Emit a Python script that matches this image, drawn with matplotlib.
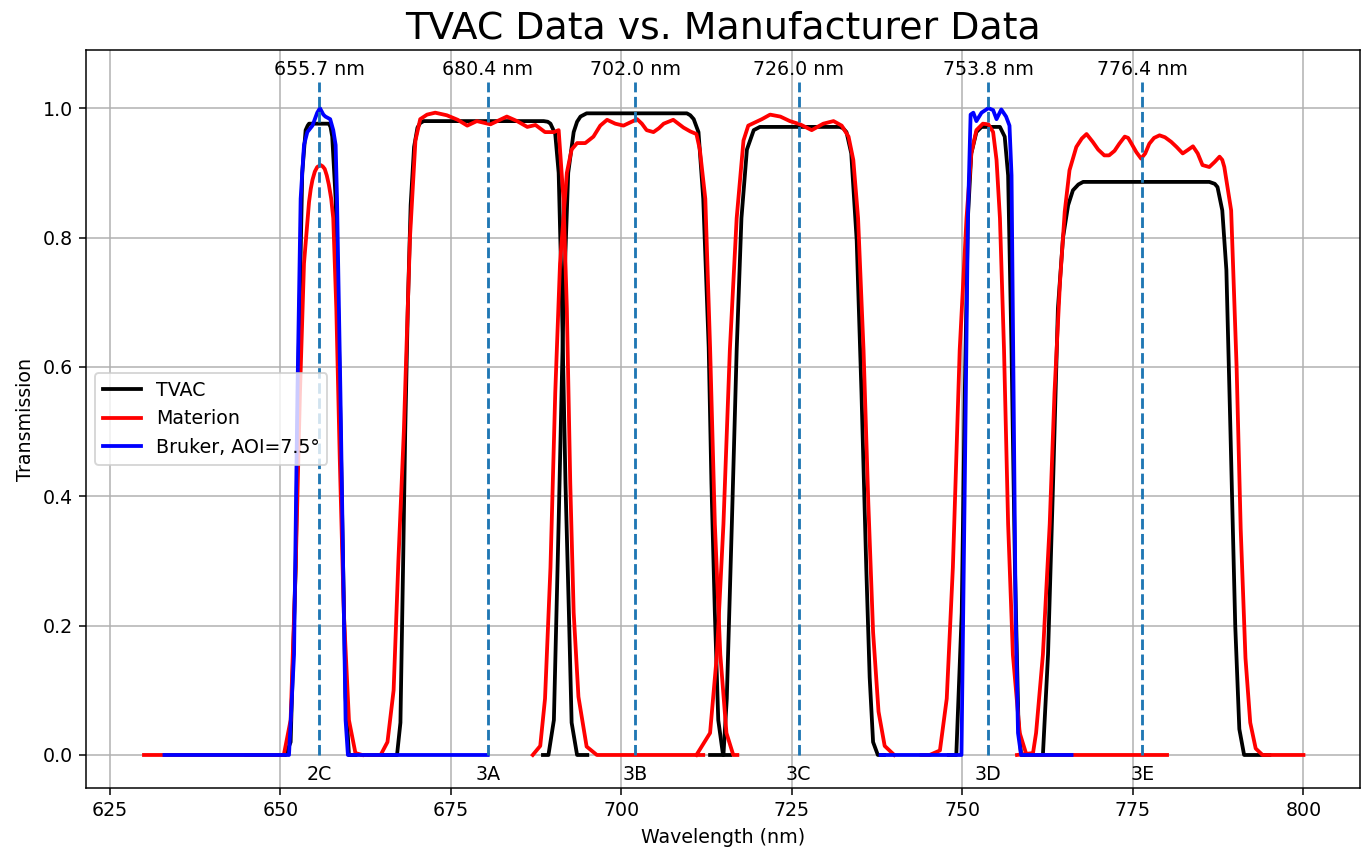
import numpy as np
import matplotlib.pyplot as plt

# filter centres and names
centers = [655.7, 680.4, 702.0, 726.0, 753.8, 776.4]
names = ['2C', '3A', '3B', '3C', '3D', '3E']

# TVAC measured curves, one per filter
tvac_2c_wl = [645, 650.77, 651.5, 652.24, 652.7, 653.2, 653.7, 654.0, 654.2, 657.1, 657.35, 657.6, 658.1, 658.6, 659.07, 659.56, 660.05, 661]
tvac_2c_t = [0, 0, 0.02, 0.29, 0.63, 0.9, 0.966, 0.973, 0.976, 0.976, 0.971, 0.956, 0.86, 0.63, 0.36, 0.09, 0, 0]

tvac_3a_wl = [663, 667.1, 667.6, 668.0, 668.3, 668.7, 669.1, 669.6, 670.1, 670.5, 671.0, 688.6, 689.2, 689.6, 690.3, 690.8, 691.3, 691.8, 692.3, 692.7, 693.5, 695]
tvac_3a_t = [0, 0, 0.05, 0.3, 0.5, 0.7, 0.85, 0.94, 0.97, 0.977, 0.98, 0.98, 0.979, 0.976, 0.96, 0.9, 0.69, 0.42, 0.22, 0.05, 0, 0]

tvac_3b_wl = [688.5, 689.3, 690.1, 690.8, 691.5, 692.2, 693.0, 693.5, 694.0, 694.9, 709.6, 710.1, 710.6, 711.3, 712.0, 712.8, 713.2, 713.7, 714.2, 714.9, 716]
tvac_3b_t = [0, 0, 0.054, 0.36, 0.69, 0.9, 0.963, 0.979, 0.987, 0.992, 0.992, 0.989, 0.983, 0.963, 0.86, 0.63, 0.42, 0.22, 0.054, 0, 0]

tvac_3c_wl = [713, 714.96, 715.45, 716.2, 716.9, 717.6, 718.4, 719.4, 720.3, 732.0, 732.5, 733.0, 733.7, 734.5, 735.2, 735.9, 736.4, 736.9, 737.6, 738.5]
tvac_3c_t = [0, 0, 0.087, 0.36, 0.626, 0.83, 0.936, 0.966, 0.971, 0.971, 0.969, 0.963, 0.93, 0.795, 0.56, 0.29, 0.12, 0.02, 0, 0]

tvac_3d_wl = [748, 749.1, 749.9, 750.35, 750.8, 751.3, 752.05, 752.8, 755.5, 756.2, 756.7, 757.2, 757.7, 758.2, 758.6, 760]
tvac_3d_t = [0, 0, 0.22, 0.56, 0.83, 0.93, 0.963, 0.971, 0.971, 0.956, 0.896, 0.626, 0.29, 0.054, 0, 0]

tvac_3e_wl = [760, 761.8, 762.55, 763.3, 764.0, 764.75, 765.5, 766.2, 767.0, 767.7, 786.2, 787.0, 787.4, 788.1, 788.7, 789.3, 790.0, 790.6, 791.3, 795]
tvac_3e_t = [0, 0, 0.155, 0.424, 0.69, 0.8, 0.85, 0.873, 0.882, 0.886, 0.886, 0.883, 0.878, 0.842, 0.75, 0.5, 0.2, 0.04, 0, 0]

# Materion manufacturer curves
mat_2c_wl = [630, 650.5, 651.5, 652.24, 652.87, 653.46, 654.2, 654.45, 654.7, 655.05, 655.4, 655.9, 656.2, 656.5, 656.8, 657.1, 657.45,
             657.75, 658.2, 658.7, 659.3, 660.05, 661.0, 662]
mat_2c_t = [0, 0, 0.054, 0.29, 0.56, 0.76, 0.855, 0.875, 0.889, 0.902, 0.909, 0.912, 0.91, 0.906, 0.896, 0.882, 0.86,
            0.83, 0.69, 0.46, 0.22, 0.054, 0.003, 0]

mat_3a_wl = [662, 664.7, 665.7, 666.6, 667.3, 668.1, 669.0, 669.8, 670.5, 671.5, 672.7, 674.4, 676.0, 677.4, 678.8, 680.8, 683.2, 684.7,
             686.2, 687.4, 688.8, 690.1, 690.8, 691.5, 692.0, 692.5, 693.0, 693.7, 694.9, 696.4, 712]
mat_3a_t = [0, 0, 0.02, 0.1, 0.3, 0.5, 0.8, 0.95, 0.983, 0.99, 0.993, 0.989, 0.982, 0.973, 0.98, 0.975, 0.987, 0.98,
            0.971, 0.974, 0.963, 0.963, 0.966, 0.86, 0.69, 0.42, 0.22, 0.09, 0.013, 0, 0]

mat_3b_wl = [687, 688.1, 688.8, 689.6, 690.3, 691.0, 692.0, 692.7, 693.5, 694.7, 695.9, 696.9, 697.9, 699.1, 700.3, 701.3, 702.3, 703.0, 703.7, 704.7,
             705.5, 706.2, 707.6, 709.1, 710.1, 711.0, 711.5, 712.3, 713.0, 713.7, 714.5, 715.4, 716.4, 717]
mat_3b_t = [0, 0.014, 0.087, 0.29, 0.56, 0.76, 0.9, 0.936, 0.946, 0.946, 0.956, 0.973, 0.982, 0.976, 0.973, 0.978, 0.983, 0.976, 0.966, 0.963,
            0.969, 0.976, 0.982, 0.97, 0.964, 0.96, 0.936, 0.86, 0.63, 0.357, 0.155, 0.034, 0, 0]

mat_3c_wl = [711, 713.0, 714.0, 714.96, 715.9, 716.9, 717.9, 718.6, 719.6, 720.6, 721.8, 723.3, 724.7, 726.2, 727.9, 729.6, 731.1, 732.3,
             733.3, 734.0, 734.7, 735.5, 736.2, 736.9, 737.7, 738.6, 740]
mat_3c_t = [0, 0.034, 0.155, 0.357, 0.626, 0.83, 0.95, 0.973, 0.978, 0.983, 0.99, 0.987, 0.98, 0.975, 0.966, 0.976, 0.98, 0.973,
            0.956, 0.92, 0.83, 0.626, 0.39, 0.19, 0.067, 0.014, 0]

mat_3d_wl = [744, 745.2, 746.7, 747.7, 748.6, 749.6, 750.6, 751.3, 752.05, 753.0, 753.8, 754.5, 755.0, 755.5, 756.1, 756.7, 757.4, 758.4, 759.4, 780]
mat_3d_t = [0, 0, 0.007, 0.087, 0.29, 0.626, 0.83, 0.93, 0.966, 0.976, 0.975, 0.963, 0.92, 0.83, 0.626, 0.357, 0.155, 0.034, 0, 0]

mat_3e_wl = [758, 760.35, 760.8, 761.8, 762.8, 763.5, 764.3, 765.0, 765.7, 766.7, 767.5, 768.2, 769.1, 769.9, 770.8, 771.5, 772.3, 773.0,
             773.8, 774.3, 774.8, 775.5, 776.2, 776.8, 777.4, 778.1, 778.9, 779.7, 780.6, 781.4, 782.3, 783.0, 783.8, 784.5, 785.2,
             786.2, 787.0, 787.7, 788.1, 788.4, 789.4, 790.2, 790.8, 791.5, 792.2, 793.0, 794, 800]
mat_3e_t = [0, 0.003, 0.034, 0.155, 0.357, 0.56, 0.73, 0.84, 0.904, 0.94, 0.953, 0.96, 0.948, 0.936, 0.927, 0.927, 0.934, 0.945,
            0.956, 0.954, 0.945, 0.932, 0.922, 0.93, 0.945, 0.954, 0.958, 0.955, 0.948, 0.94, 0.93, 0.935, 0.941, 0.93, 0.912,
            0.909, 0.917, 0.925, 0.92, 0.909, 0.842, 0.6, 0.35, 0.15, 0.05, 0.01, 0, 0]

# Bruker curves, AOI = 7.5 deg
bru_2c_wl = [633, 651.26, 652.0, 652.5, 652.97, 653.46, 653.95, 654.7, 655.4, 655.8, 656.3, 656.6, 657.3, 657.75, 658.1, 658.3, 658.8, 659.2, 659.56, 659.9, 680.4]
bru_2c_t = [0, 0, 0.155, 0.56, 0.86, 0.943, 0.963, 0.973, 0.993, 1.0, 0.99, 0.987, 0.983, 0.966, 0.943, 0.86, 0.56, 0.29, 0.054, 0, 0]

bru_3d_wl = [738, 749.86, 750.35, 750.8, 751.2, 751.6, 752.05, 752.8, 753.8, 754.5, 755.0, 755.7, 756.4, 756.9, 757.2, 757.5, 757.8, 758.15, 758.6, 766]
bru_3d_t = [0, 0, 0.424, 0.83, 0.99, 0.993, 0.98, 0.993, 1.0, 0.997, 0.983, 0.998, 0.987, 0.973, 0.896, 0.56, 0.22, 0.034, 0, 0]

tvac = [(tvac_2c_wl, tvac_2c_t), (tvac_3a_wl, tvac_3a_t), (tvac_3b_wl, tvac_3b_t),
        (tvac_3c_wl, tvac_3c_t), (tvac_3d_wl, tvac_3d_t), (tvac_3e_wl, tvac_3e_t)]
materion = [(mat_2c_wl, mat_2c_t), (mat_3a_wl, mat_3a_t), (mat_3b_wl, mat_3b_t),
            (mat_3c_wl, mat_3c_t), (mat_3d_wl, mat_3d_t), (mat_3e_wl, mat_3e_t)]
bruker = [(bru_2c_wl, bru_2c_t), (bru_3d_wl, bru_3d_t)]

dpi = 136.5
fig = plt.figure(figsize=(1361 / dpi, 848 / dpi), dpi=dpi)
ax = fig.add_axes([0.0632, 0.0708, 0.9361, 0.8703])

lw = 2
for i, (wl, t) in enumerate(tvac):
    ax.plot(wl, t, color='black', lw=lw, label='TVAC' if i == 0 else None)
for i, (wl, t) in enumerate(materion):
    ax.plot(wl, t, color='red', lw=lw, label='Materion' if i == 0 else None)
for i, (wl, t) in enumerate(bruker):
    ax.plot(wl, t, color='blue', lw=lw, label='Bruker, AOI=7.5°' if i == 0 else None)

for c, n in zip(centers, names):
    ax.plot([c, c], [0, 1.04], '--', color='tab:blue', lw=1.5)
    ax.text(c, 1.06, f'{c:.1f} nm', ha='center', va='center', fontsize=10)
    ax.text(c, -0.03, n, ha='center', va='center', fontsize=10)

ax.set_xlim(621.5, 808.3)
ax.set_ylim(-0.051, 1.09)
ax.set_xticks(np.arange(625, 801, 25))
ax.set_yticks(np.arange(0, 1.01, 0.2))
ax.grid(True)
ax.set_xlabel('Wavelength (nm)')
ax.set_ylabel('Transmission')
ax.set_title('TVAC Data vs. Manufacturer Data', fontsize=20)
ax.legend(loc='center left')

fig.savefig('out.png', dpi=dpi)
